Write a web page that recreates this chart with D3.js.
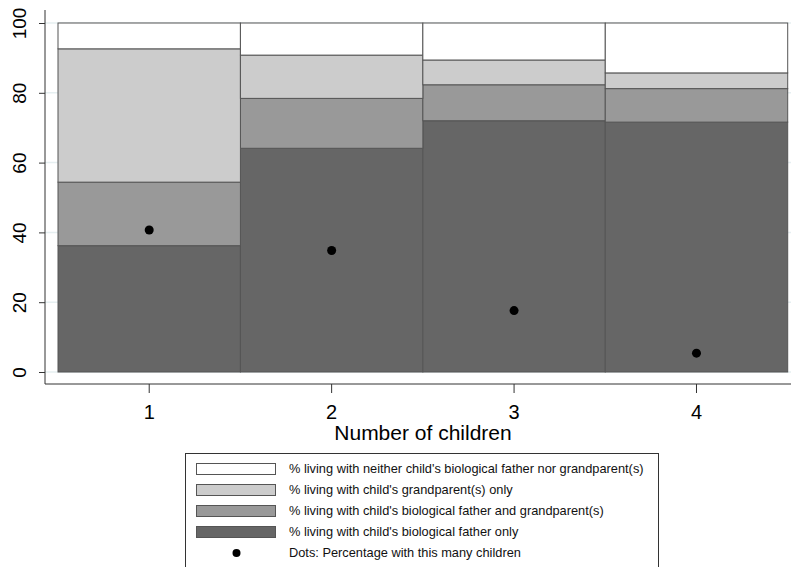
<!DOCTYPE html>
<html>
<head>
<meta charset="utf-8">
<script src="https://cdn.jsdelivr.net/npm/d3@7"></script>
<style>
  html, body { margin: 0; padding: 0; background: #fff; }
  svg { display: block; font-family: "Liberation Sans", Arial, Helvetica, sans-serif; }
</style>
</head>
<body>
<svg id="chart" width="791" height="567"></svg>
<script>
// Number of children (x categories)
const categories = [1, 2, 3, 4];

// Living arrangement shares (%) per number of children, stacked bottom to top
const fatherOnly     = [36.2, 64.1, 72.0, 71.6];
const fatherAndGrand = [18.2, 14.3, 10.3,  9.6];
const grandOnly      = [38.2, 12.4,  7.1,  4.5];
const neither        = [ 7.4,  9.2, 10.6, 14.3];

// Dots: percentage of respondents with this many children
const pctWithChildren = [40.7, 34.8, 17.6, 5.4];

const yTicks = [0, 20, 40, 60, 80, 100];

const seriesKeys = ["fatherOnly", "fatherAndGrand", "grandOnly", "neither"];
const seriesLabels = {
  neither: "% living with neither child's biological father nor grandparent(s)",
  grandOnly: "% living with child's grandparent(s) only",
  fatherAndGrand: "% living with child's biological father and grandparent(s)",
  fatherOnly: "% living with child's biological father only"
};
const fills = {
  fatherOnly: "#666666",
  fatherAndGrand: "#999999",
  grandOnly: "#cccccc",
  neither: "#ffffff"
};

const rows = categories.map((c, i) => ({
  cat: c,
  fatherOnly: fatherOnly[i],
  fatherAndGrand: fatherAndGrand[i],
  grandOnly: grandOnly[i],
  neither: neither[i]
}));

const svg = d3.select("#chart");

const x = d3.scaleBand().domain(categories).range([58, 787.7]).padding(0);
const y = d3.scaleLinear().domain([0, 100]).range([372, 23]);

const axisX0 = 45, axisX1 = 791, axisYTop = 10, axisYBottom = 384;

// faint grid lines behind the bars
svg.append("g")
  .selectAll("line")
  .data(yTicks)
  .join("line")
  .attr("x1", axisX0).attr("x2", axisX1)
  .attr("y1", d => y(d)).attr("y2", d => y(d))
  .attr("stroke", "#e6eff1")
  .attr("stroke-width", 1.5);

// stacked bars
const stacked = d3.stack().keys(seriesKeys)(rows);
svg.append("g")
  .selectAll("g")
  .data(stacked)
  .join("g")
  .attr("fill", d => fills[d.key])
  .selectAll("rect")
  .data(d => d)
  .join("rect")
  .attr("x", d => x(d.data.cat))
  .attr("width", x.bandwidth())
  .attr("y", d => y(d[1]))
  .attr("height", d => y(d[0]) - y(d[1]))
  .attr("stroke", "#555555")
  .attr("stroke-width", 1);

// dots
svg.append("g")
  .selectAll("circle")
  .data(pctWithChildren)
  .join("circle")
  .attr("cx", (d, i) => x(categories[i]) + x.bandwidth() / 2)
  .attr("cy", d => y(d))
  .attr("r", 4.5)
  .attr("fill", "#000");

// axis lines
svg.append("line")
  .attr("x1", axisX0).attr("x2", axisX0)
  .attr("y1", axisYTop).attr("y2", axisYBottom)
  .attr("stroke", "#333").attr("stroke-width", 1);
svg.append("line")
  .attr("x1", axisX0).attr("x2", axisX1)
  .attr("y1", axisYBottom).attr("y2", axisYBottom)
  .attr("stroke", "#333").attr("stroke-width", 1);

// y axis ticks and rotated labels
const yAxis = svg.append("g")
  .attr("transform", `translate(${axisX0},0)`)
  .call(d3.axisLeft(y).tickValues(yTicks).tickSize(6).tickFormat(d3.format("d")));
yAxis.select(".domain").remove();
yAxis.selectAll(".tick line").attr("stroke", "#333");
yAxis.selectAll(".tick text")
  .attr("x", null).attr("dy", "0.35em")
  .attr("text-anchor", "middle")
  .attr("transform", "translate(-26,0) rotate(-90)")
  .attr("font-size", 19)
  .attr("font-family", "'Liberation Sans', Arial, sans-serif")
  .attr("fill", "#000");

// x axis ticks and labels
const xAxis = svg.append("g")
  .attr("transform", `translate(0,${axisYBottom})`)
  .call(d3.axisBottom(x).tickSize(9).tickPadding(12));
xAxis.select(".domain").remove();
xAxis.selectAll(".tick line").attr("stroke", "#333");
xAxis.selectAll(".tick text")
  .attr("font-size", 20)
  .attr("font-family", "'Liberation Sans', Arial, sans-serif")
  .attr("fill", "#000");

svg.append("text")
  .attr("x", 423).attr("y", 440)
  .attr("text-anchor", "middle")
  .attr("font-size", 21)
  .attr("fill", "#000")
  .text("Number of children");

// legend
const legend = svg.append("g");
legend.append("rect")
  .attr("x", 185.5).attr("y", 453.5)
  .attr("width", 473).attr("height", 130)
  .attr("fill", "#fff")
  .attr("stroke", "#333").attr("stroke-width", 1);

const legendOrder = ["neither", "grandOnly", "fatherAndGrand", "fatherOnly"];
const rowY = i => 469 + i * 21;
legend.selectAll("rect.sw")
  .data(legendOrder)
  .join("rect")
  .attr("class", "sw")
  .attr("x", 196.5).attr("y", (d, i) => rowY(i) - 5.5)
  .attr("width", 79).attr("height", 11)
  .attr("fill", d => fills[d])
  .attr("stroke", "#555").attr("stroke-width", 1);
legend.selectAll("text.lab")
  .data(legendOrder)
  .join("text")
  .attr("class", "lab")
  .attr("x", 289).attr("y", (d, i) => rowY(i))
  .attr("dy", "0.35em")
  .attr("font-size", 12.8)
  .attr("fill", "#111")
  .text(d => seriesLabels[d]);
legend.append("circle")
  .attr("cx", 236.5).attr("cy", rowY(4))
  .attr("r", 4).attr("fill", "#000");
legend.append("text")
  .attr("x", 289).attr("y", rowY(4))
  .attr("dy", "0.35em")
  .attr("font-size", 12.8)
  .attr("fill", "#111")
  .text("Dots: Percentage with this many children");
</script>
</body>
</html>
